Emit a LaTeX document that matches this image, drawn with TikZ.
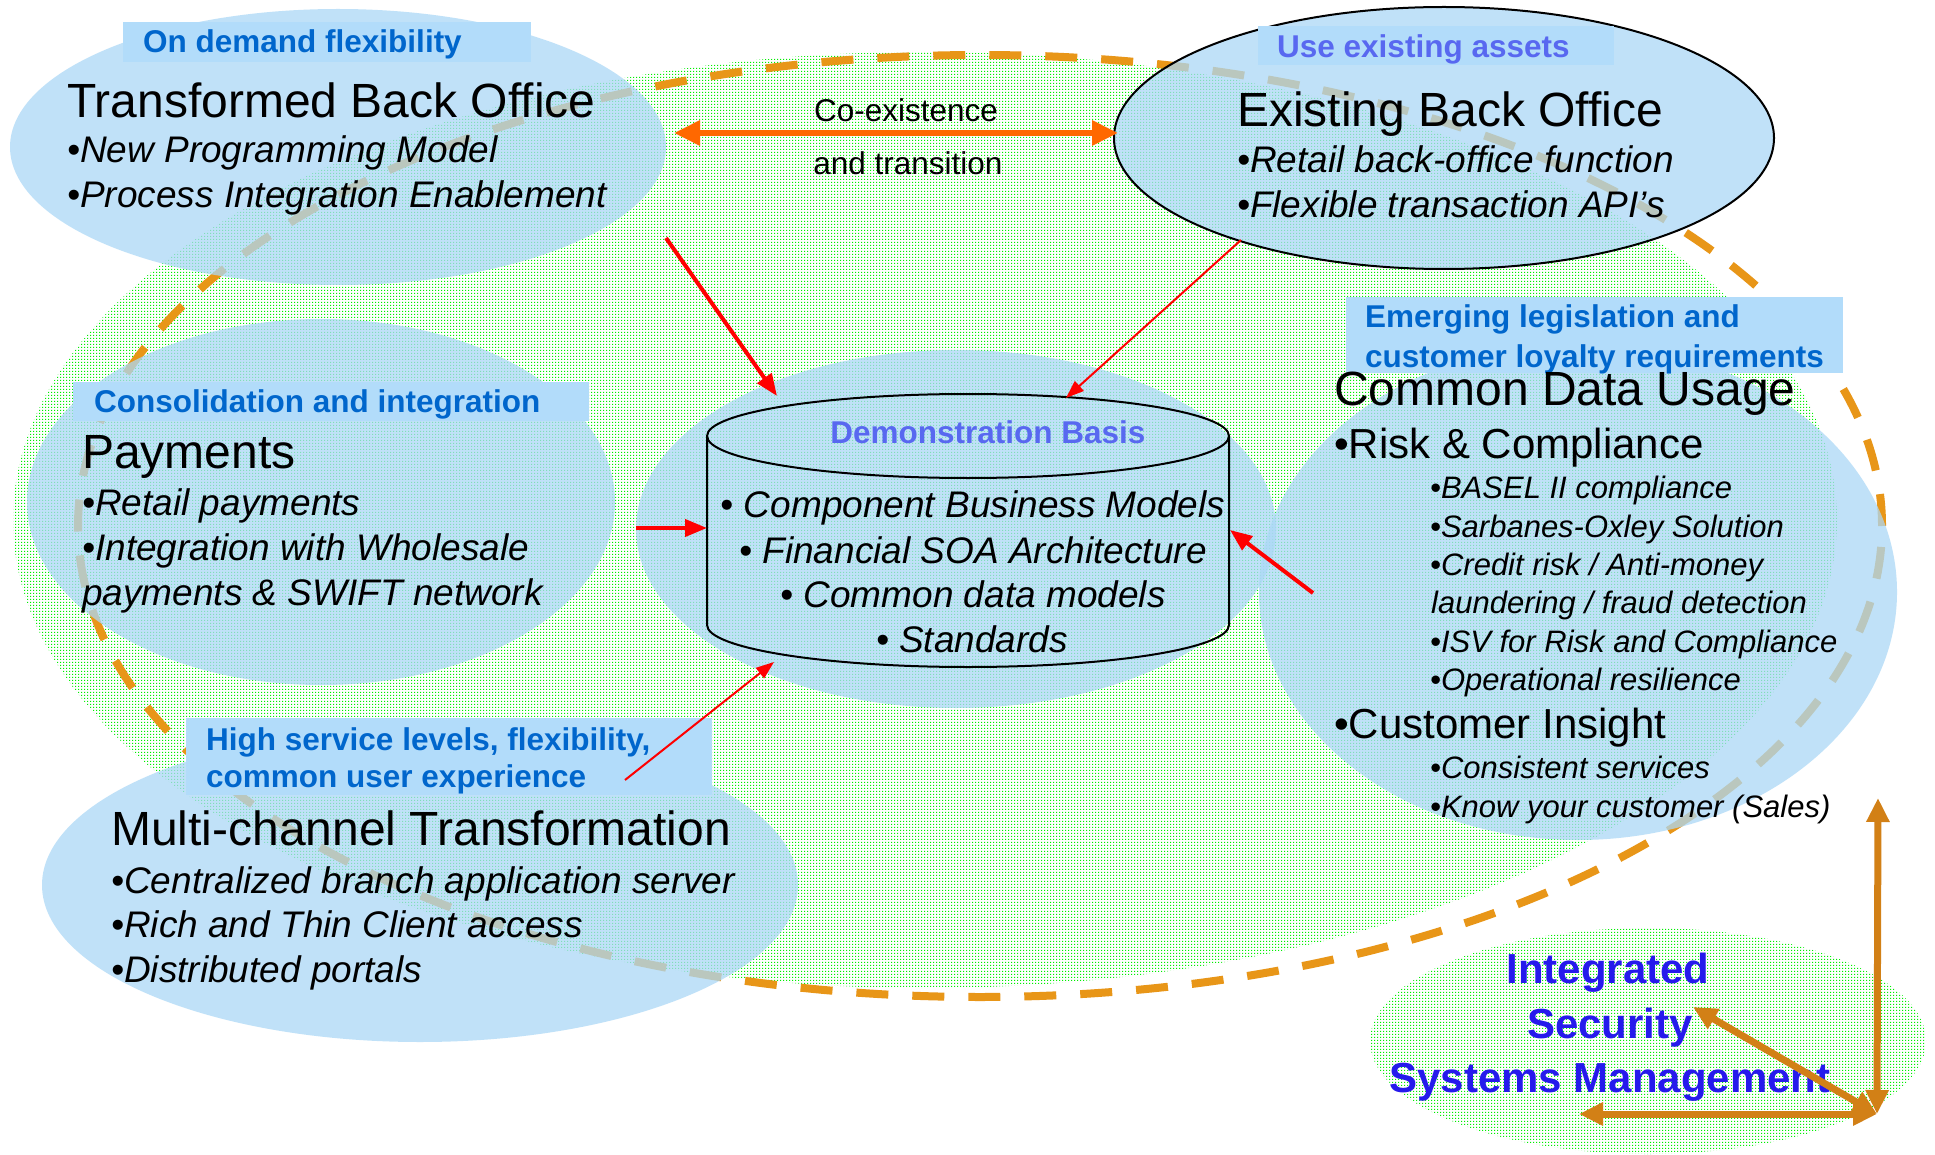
\documentclass[tikz,border=0pt]{standalone}
\usepackage{fontspec}
\setmainfont{Liberation Sans}
\usepackage{tikz}
\usetikzlibrary{calc}
\usetikzlibrary{arrows.meta,patterns,shapes.geometric}

\definecolor{blobblue}{RGB}{171,216,246}
\definecolor{tagfill}{RGB}{178,220,250}
\definecolor{tagblue}{RGB}{0,102,204}
\definecolor{lavblue}{RGB}{88,104,240}
\definecolor{secblue}{RGB}{38,26,236}
\definecolor{dashorange}{RGB}{232,150,24}
\definecolor{coexorange}{RGB}{255,104,0}
\definecolor{secbrown}{RGB}{210,128,22}
\definecolor{meshgreen}{RGB}{0,240,0}

\pgfdeclarepatternformonly{greenmesh}{\pgfqpoint{0pt}{0pt}}{\pgfqpoint{3pt}{3pt}}{\pgfqpoint{3pt}{3pt}}{%
  \pgfpathrectangle{\pgfqpoint{0pt}{0pt}}{\pgfqpoint{1.4pt}{1.4pt}}\pgfusepath{fill}}

\begin{document}
\begin{tikzpicture}[x=1pt, y=-1pt,
  blob/.style={ellipse, fill=blobblue, fill opacity=0.75, inner sep=0pt},
  meshfield/.style={ellipse, pattern=greenmesh, pattern color=meshgreen, inner sep=0pt},
  tagbox/.style={rectangle, fill=tagfill, inner sep=0pt, anchor=north west},
  tagtext/.style={font=\fontsize{31.5}{31.5}\selectfont\bfseries, text=tagblue, anchor=base west, inner sep=0pt},
  headtext/.style={font=\fontsize{48}{48}\selectfont, anchor=base west, inner sep=0pt},
  headsub/.style={font=\fontsize{42}{42}\selectfont, anchor=base west, inner sep=0pt},
  itemtext/.style={font=\fontsize{37}{37}\selectfont\itshape, anchor=base west, inner sep=0pt},
  subtext/.style={font=\fontsize{31}{31}\selectfont\itshape, anchor=base west, inner sep=0pt},
  plaintext/.style={font=\fontsize{31.5}{31.5}\selectfont, anchor=base, inner sep=0pt},
  sectext/.style={font=\fontsize{42}{42}\selectfont\bfseries, text=secblue, anchor=base, inner sep=0pt},
  redthick/.style={draw=red, line width=4pt, -{Triangle[length=22pt,width=17pt]}},
  redthin/.style={draw=red, line width=2pt, -{Triangle[length=18pt,width=13pt]}},
  coexline/.style={draw=coexorange, line width=6pt, {Triangle[length=26pt,width=24pt]}-{Triangle[length=26pt,width=24pt]}},
  secarrow/.style={draw=secbrown, line width=7pt, {Triangle[length=24pt,width=22pt]}-{Triangle[length=24pt,width=22pt]}}]

	\useasboundingbox (0,0) rectangle (1935,1155);
	\fill[white] (0,0) rectangle (1935,1155);

	% dotted fields and the dashed ring
	\node[meshfield, minimum width=1824pt, minimum height=936pt] (field) at (925,520) {};
	\node[meshfield, minimum width=556pt, minimum height=226pt] (secfield) at (1648,1041) {};
	\draw[dashorange, line width=8pt, dash pattern=on 32pt off 24pt] (980,526) ellipse [x radius=902pt, y radius=471pt];

	\node[blob, minimum width=656pt, minimum height=276pt] (tbo) at (338,147) {};
	\node[blob, minimum width=588pt, minimum height=366pt] (pay) at (321,502) {};
	\node[blob, minimum width=756pt, minimum height=314pt] (mct) at (420,885) {};
	\node[blob, minimum width=640pt, minimum height=358pt] (demo) at (956,529) {};
	\node[blob, minimum width=638pt, minimum height=496pt] (cdu) at (1578,592) {};
	\node[blob, draw=black, line width=2pt, minimum width=660pt, minimum height=262pt] (ebo) at (1444,138) {};

	% cylinder
	\draw[black, line width=2pt] (968,436) ellipse [x radius=261pt, y radius=42pt];
	\draw[black, line width=2pt] (707,436) -- (707,625) arc [start angle=180, end angle=360, x radius=261pt, y radius=42pt] -- (1229,436);

	\node[tagbox, minimum width=408pt, minimum height=40pt] (tbotag) at (123,22) {};
	\node[tagbox, minimum width=356pt, minimum height=39pt] (ebotag) at (1258,26) {};
	\node[tagbox, minimum width=516pt, minimum height=39pt] (paytag) at (73,382) {};
	\node[tagbox, minimum width=526pt, minimum height=77pt] (mcttag) at (186,718) {};
	\node[tagbox, minimum width=497pt, minimum height=76pt] (cdutag) at (1346,297) {};

	\node[tagtext] (tbotagtx) at (143,53) {On demand flexibility};
	\node[headtext] (tbohead) at (67,118) {Transformed Back Office};
	\node[itemtext] (tboa) at (67,163) {•New Programming Model};
	\node[itemtext] (tbob) at (67,208) {•Process Integration Enablement};

	\node[tagtext, text=lavblue] (ebotagtx) at (1277,58) {Use existing assets};
	\node[headtext] (ebohead) at (1237,127) {Existing Back Office};
	\node[itemtext] (eboa) at (1237,173) {•Retail back-office function};
	\node[itemtext] (ebob) at (1237,218) {•Flexible transaction API’s};

	\node[plaintext] (coexa) at (906,122) {Co-existence};
	\node[plaintext] (coexb) at (908,175) {and transition};

	\node[tagtext] (paytagtx) at (94,412) {Consolidation and integration};
	\node[headtext] (payhead) at (82,468) {Payments};
	\node[itemtext] (paya) at (82,515) {•Retail payments};
	\node[itemtext] (payb) at (82,560) {•Integration with Wholesale};
	\node[itemtext] (payc) at (82,605) {payments \& SWIFT network};

	\node[tagtext] (mcttagtxa) at (206,750) {High service levels, flexibility,};
	\node[tagtext] (mcttagtxb) at (206,787) {common user experience};
	\node[headtext] (mcthead) at (111,845) {Multi-channel Transformation};
	\node[itemtext] (mcta) at (111,893) {•Centralized branch application server};
	\node[itemtext] (mctb) at (111,937) {•Rich and Thin Client access};
	\node[itemtext] (mctc) at (111,982) {•Distributed portals};

	\node[tagtext, text=lavblue, anchor=base] (demotag) at (988,443) {Demonstration Basis};
	\node[itemtext, anchor=base] (demoa) at (973,517) {• Component Business Models};
	\node[itemtext, anchor=base] (demob) at (973,563) {• Financial SOA Architecture};
	\node[itemtext, anchor=base] (democ) at (973,607) {• Common data models};
	\node[itemtext, anchor=base] (demod) at (972,652) {• Standards};

	\node[tagtext] (cdutagtxa) at (1365,328) {Emerging legislation and};
	\node[tagtext] (cdutagtxb) at (1365,367) {customer loyalty requirements};
	\node[headtext] (cduhead) at (1334,406) {Common Data Usage};
	\node[headsub] (cdurisk) at (1334,458) {•Risk \& Compliance};
	\node[subtext] (cdua) at (1430,498) {•BASEL II compliance};
	\node[subtext] (cdub) at (1430,537) {•Sarbanes-Oxley Solution};
	\node[subtext] (cduc) at (1430,575) {•Credit risk / Anti-money};
	\node[subtext] (cducc) at (1431,613) {laundering / fraud detection};
	\node[subtext] (cdud) at (1430,652) {•ISV for Risk and Compliance};
	\node[subtext] (cdue) at (1430,690) {•Operational resilience};
	\node[headsub] (cduins) at (1334,738) {•Customer Insight};
	\node[subtext] (cduf) at (1430,778) {•Consistent services};
	\node[subtext] (cdug) at (1430,817) {•Know your customer (Sales)};

	\node[sectext] (seca) at (1608,983) {Integrated};
	\node[sectext] (secb) at (1610,1038) {Security};
	\node[sectext] (secc) at (1610,1092) {Systems Management};

	% arrow ends
	\coordinate (coexL) at (674,133);
	\coordinate (coexR) at (1118,133);
	\coordinate (tboout) at (666,238);
	\coordinate (demotl) at (777,396);
	\coordinate (eboout) at (1241,240);
	\coordinate (demotr) at (1066,398);
	\coordinate (payout) at (636,528);
	\coordinate (demol) at (707,528);
	\coordinate (cduout) at (1313,593);
	\coordinate (demor) at (1230,530);
	\coordinate (mctout) at (625,780);
	\coordinate (demobl) at (774,662);
	\coordinate (seccorner) at (1877,1114);
	\coordinate (secup) at (1878,798);
	\coordinate (secleft) at (1579,1114);
	\coordinate (secdiag) at (1693,1007);

	\draw[coexline] (coexL) -- (coexR);
	\draw[redthick] (tboout) -- (demotl);
	\draw[redthin] (eboout) -- (demotr);
	\draw[redthick] (payout) -- (demol);
	\draw[redthick] (cduout) -- (demor);
	\draw[redthin] (mctout) -- (demobl);

	\draw[secarrow] (seccorner) -- (secup);
	\draw[secarrow] (seccorner) -- (secleft);
	\draw[secarrow] (seccorner) -- (secdiag);

\end{tikzpicture}
\end{document}
